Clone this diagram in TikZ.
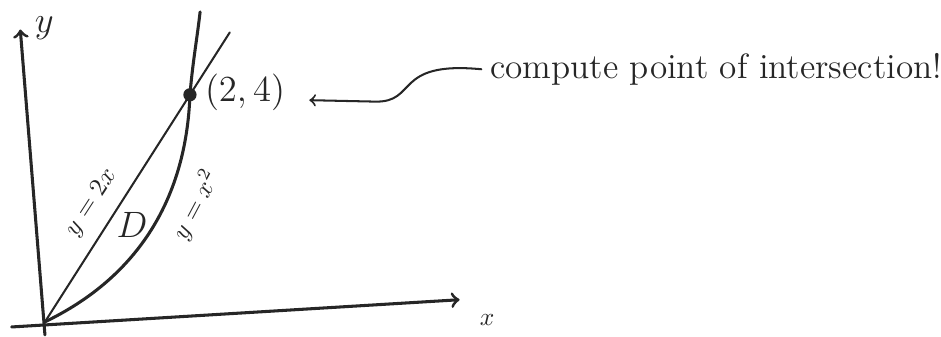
\documentclass[tikz,border=0pt]{standalone}
\begin{document}
\begin{tikzpicture}[x=1cm,y=.783cm,line cap=round,black!85]
\useasboundingbox (-.62,-.26) rectangle (12.36,5.67);
% axes
\coordinate (xs) at (-.46,-.09); \coordinate (xe) at (5.72,.39);
\coordinate (ys) at (0,-.23); \coordinate (ye) at (-.34,5.15);
\draw[->,very thick] (xs)--(xe);
\draw[->,very thick] (ys)--(ye);
\node (xlab) at (6.1,.03) {$x$};
\node (ylab) at (-.01,5.18) {\Large$y$};
% curves
\draw[thick,samples=60,domain=0:2.55,variable=\t] plot ({\t},{2*\t});
\draw[very thick] (0,0) .. controls (1.3,.8) and (1.95,2.2) .. (2,4)
  .. controls (2.04,4.6) and (2.1,5) .. (2.14,5.46);
\fill (2,4) circle (2.6pt);
\node (pt) at (2.76,4.04) {\Large$(2,4)$};
\node[rotate=57,inner sep=1pt] (lline) at (.64,2.1) {$y=2x$};
\node[inner sep=1pt] (dom) at (1.2,1.7) {\Large$D$};
\node[rotate=62,inner sep=1pt] (lpar) at (2.08,2.06) {$y=x^2$};
% remark
\node[anchor=west,font=\fontsize{13.8}{16}\selectfont] (note) at (6.02,4.45) {compute point of intersection!};
\draw[->,thick] (note.west) .. controls (4.8,4.6) and (5.15,3.86) .. (4.55,3.88) -- ([xshift=6pt,yshift=-3pt]pt.east);
\end{tikzpicture}
\end{document}
